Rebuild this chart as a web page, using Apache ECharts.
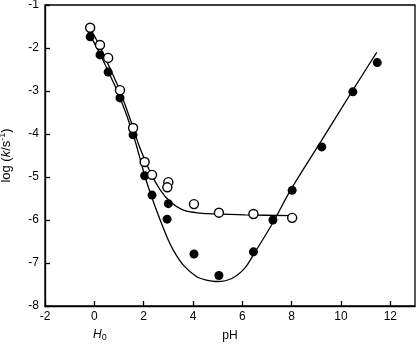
<!DOCTYPE html>
<html>
<head>
<meta charset="utf-8">
<script src="https://cdn.jsdelivr.net/npm/echarts@6/dist/echarts.min.js"></script>
<style>
  html, body { margin: 0; padding: 0; background: #fff; }
  #chart { width: 417px; height: 345px; }
</style>
</head>
<body>
<div id="chart"></div>
<script>
// measured points (pH / H0, log k)
const filledPts = [
  [-0.17, -1.74], [0.23, -2.16], [0.56, -2.56], [1.04, -3.16], [1.57, -4.02],
  [2.04, -4.97], [2.34, -5.42], [3.0, -5.62], [2.95, -5.98], [4.04, -6.79],
  [5.05, -7.29], [6.45, -6.74], [7.24, -6.0], [8.02, -5.31], [9.22, -4.3],
  [10.48, -3.02], [11.47, -2.34]
];
const openPts = [
  [-0.17, -1.53], [0.23, -1.93], [0.56, -2.23], [1.04, -2.98], [1.57, -3.86],
  [2.04, -4.65], [2.34, -4.95], [3.0, -5.12], [2.96, -5.24], [4.04, -5.63],
  [5.05, -5.83], [6.45, -5.86], [8.02, -5.95]
];
// fitted curves
const filledCurve = [
  [-0.25, -1.62], [0.23, -2.14], [0.56, -2.54], [1.04, -3.15], [1.57, -4.0],
  [2.06, -5.0], [2.39, -5.57], [2.67, -6.0], [2.94, -6.39], [3.2, -6.7],
  [3.61, -7.05], [4.15, -7.32], [4.5, -7.39], [5.0, -7.43], [5.57, -7.36],
  [6.1, -7.12], [6.5, -6.76], [6.9, -6.39], [7.3, -6.0], [8.0, -5.26],
  [9.2, -4.16], [10.5, -2.96], [11.45, -2.1]
];
const openCurve = [
  [-0.2, -1.5], [0.23, -1.97], [0.56, -2.38], [1.04, -3.0], [1.57, -3.85],
  [1.8, -4.25], [2.26, -4.88], [2.67, -5.3], [3.07, -5.57], [3.61, -5.77],
  [4.29, -5.84], [4.9, -5.86], [6.11, -5.88], [8.0, -5.9]
];
const xTicks = { min: -2, max: 13, step: 2 };
const yTicks = { min: -8, max: -1, step: 1 };

const font = "Liberation Sans, Arial, Helvetica, sans-serif";
const chart = echarts.init(document.getElementById("chart"));

const option = {
  animation: false,
  textStyle: { fontFamily: font, color: "#000" },
  grid: {
    left: 45, right: 2, top: 5, bottom: 39,
    outerBoundsMode: "none",
    containLabel: false,
    show: true, borderColor: "#000", borderWidth: 1.3, backgroundColor: "transparent"
  },
  xAxis: {
    type: "value",
    min: xTicks.min, max: xTicks.max, interval: xTicks.step,
    name: "pH",
    nameLocation: "middle",
    nameGap: 24,
    nameTextStyle: { fontFamily: font, fontSize: 12, color: "#000" },
    axisLine: { show: true, onZero: false, lineStyle: { color: "#000", width: 1.3 } },
    axisTick: { show: true, inside: true, length: 5, lineStyle: { color: "#000", width: 1.3 } },
    axisLabel: {
      fontFamily: font, fontSize: 12, color: "#000", margin: 5,
      showMaxLabel: false,
      formatter: v => (v === xTicks.max ? "" : String(v))
    },
    splitLine: { show: false }
  },
  yAxis: {
    type: "value",
    min: yTicks.min, max: yTicks.max, interval: yTicks.step,
    name: "{a|log (}{i|k}{a|/s}{s|-1}{a|)}",
    nameLocation: "middle",
    nameGap: 31,
    nameRotate: 90,
    nameTextStyle: {
      rich: {
        a: { fontFamily: font, fontSize: 13, color: "#000" },
        i: { fontFamily: font, fontSize: 13, fontStyle: "italic", color: "#000" },
        s: { fontFamily: font, fontSize: 9, color: "#000", verticalAlign: "top", padding: [0, 0, 7, 0] }
      }
    },
    axisLine: { show: true, onZero: false, lineStyle: { color: "#000", width: 1.3 } },
    axisTick: { show: true, inside: true, length: 5, lineStyle: { color: "#000", width: 1.3 } },
    axisLabel: { fontFamily: font, fontSize: 12, color: "#000", margin: 6 },
    splitLine: { show: false }
  },
  graphic: [
    {
      type: "text",
      left: 93, top: 329,
      style: {
        text: "{i|H}{s|0}",
        rich: {
          i: { fontFamily: font, fontSize: 12, fontStyle: "italic", fill: "#000" },
          s: { fontFamily: font, fontSize: 9, fill: "#000", padding: [6, 0, 0, 0] }
        }
      }
    }
  ],
  series: [
    {
      type: "line",
      data: filledCurve,
      smooth: 0.3,
      showSymbol: false,
      lineStyle: { color: "#000", width: 1.3 },
      z: 2
    },
    {
      type: "line",
      data: openCurve,
      smooth: 0.3,
      showSymbol: false,
      lineStyle: { color: "#000", width: 1.3 },
      z: 2
    },
    {
      type: "scatter",
      data: filledPts,
      symbol: "circle",
      symbolSize: 9,
      itemStyle: { color: "#000", opacity: 1 },
      z: 3
    },
    {
      type: "scatter",
      data: openPts,
      symbol: "circle",
      symbolSize: 9,
      itemStyle: { color: "#fff", borderColor: "#000", borderWidth: 1.4, opacity: 1 },
      z: 4
    }
  ]
};

chart.setOption(option);
</script>
</body>
</html>
